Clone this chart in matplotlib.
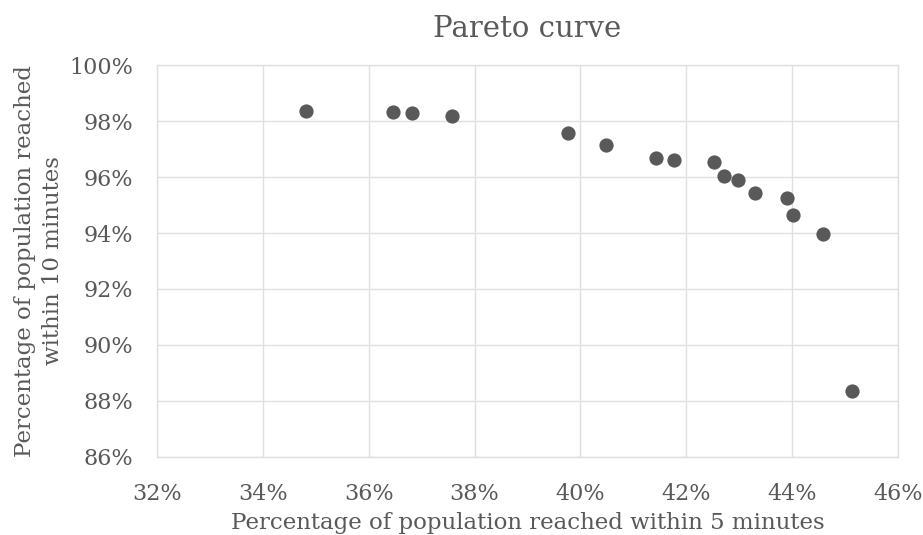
import matplotlib
matplotlib.use("Agg")
import matplotlib.pyplot as plt
from matplotlib.ticker import FuncFormatter, MultipleLocator

# values (percent)
reach_5min = [34.81, 36.46, 36.81, 37.57, 39.77, 40.48, 41.42, 41.77, 42.52,
              42.72, 42.97, 43.29, 43.91, 44.01, 44.58, 45.13]
reach_10min = [98.37, 98.33, 98.27, 98.19, 97.56, 97.15, 96.69, 96.61, 96.54,
               96.05, 95.90, 95.44, 95.26, 94.65, 93.95, 88.35]

title = "Pareto curve"
xlabel = "Percentage of population reached within 5 minutes"
ylabel = "Percentage of population reached\nwithin 10 minutes"

TEXT = "#595959"
GRID = "#e0e0e0"

plt.rcParams["font.family"] = ["DejaVu Serif"]

fig = plt.figure(figsize=(9.23, 5.35), dpi=100)
ax = fig.add_axes([0.170, 0.1458, 0.803, 0.7327])

ax.scatter(reach_5min, reach_10min, s=105, color="#595959", zorder=3, linewidths=0)

ax.set_xlim(32, 46)
ax.set_ylim(86, 100)
ax.xaxis.set_major_locator(MultipleLocator(2))
ax.yaxis.set_major_locator(MultipleLocator(2))
pct = FuncFormatter(lambda v, _: f"{v:.0f}%")
ax.xaxis.set_major_formatter(pct)
ax.yaxis.set_major_formatter(pct)

ax.grid(True, color=GRID, linewidth=1.0, zorder=0)
for side in ax.spines.values():
    side.set_color(GRID)
    side.set_linewidth(1.0)
ax.tick_params(length=0, labelsize=16, colors=TEXT)
ax.tick_params(axis="y", pad=17)
ax.tick_params(axis="x", pad=19)

ax.set_title(title, fontsize=21, color=TEXT, pad=20)
ax.set_xlabel(xlabel, fontsize=16.5, color=TEXT, labelpad=5)
ax.set_ylabel(ylabel, fontsize=16.5, color=TEXT, labelpad=4, linespacing=1.35)

fig.savefig("out.png", dpi=100)
